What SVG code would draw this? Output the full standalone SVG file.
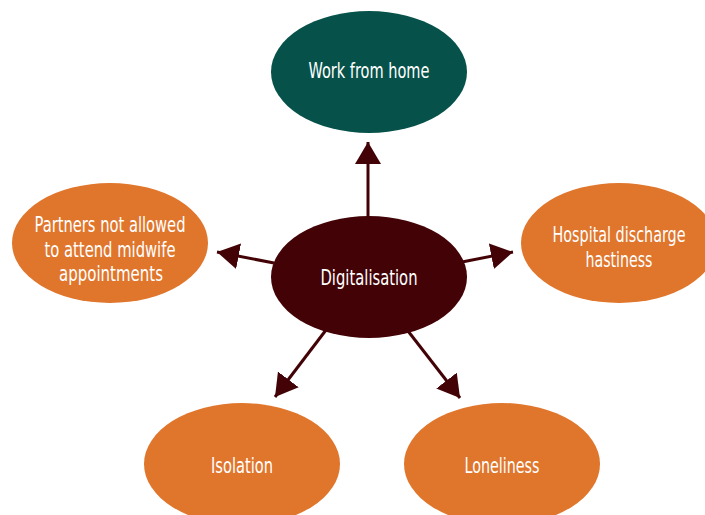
<svg xmlns="http://www.w3.org/2000/svg" width="705" height="515" viewBox="0 0 705 515">
<style>
.lbl{font-family:"DejaVu Sans Condensed","Liberation Sans",sans-serif;font-size:20.5px;fill:#ffffff;text-anchor:middle}
.orange{fill:#e0752c}
.conn{stroke:#430306;stroke-width:3;fill:none;marker-end:url(#ah)}
</style>
<defs>
<marker id="ah" markerUnits="userSpaceOnUse" markerWidth="24" markerHeight="28" refX="22" refY="13" orient="auto" viewBox="0 0 24 28">
<path d="M0,0 L22,13 L0,26 z" fill="#430306"/>
</marker>
</defs>
<rect width="705" height="515" fill="#ffffff"/>
<g id="connectors">
<line class="conn" x1="368" y1="218" x2="368" y2="142"/>
<line class="conn" x1="274" y1="263" x2="217" y2="252"/>
<line class="conn" x1="462" y1="262" x2="513" y2="252"/>
<line class="conn" x1="326" y1="330" x2="275" y2="397"/>
<line class="conn" x1="408" y1="331" x2="460" y2="398"/>
</g>
<g id="work-from-home">
<ellipse cx="369" cy="72" rx="98" ry="61" fill="#06524a"/>
<text class="lbl" x="369" y="78" textLength="121" lengthAdjust="spacingAndGlyphs">Work from home</text>
</g>
<g id="digitalisation">
<ellipse cx="369" cy="277" rx="98" ry="61" fill="#430306"/>
<text class="lbl" x="369" y="285" textLength="97" lengthAdjust="spacingAndGlyphs">Digitalisation</text>
</g>
<g id="partners">
<ellipse class="orange" cx="110" cy="243" rx="98" ry="60"/>
<text class="lbl" x="110" y="232" textLength="151" lengthAdjust="spacingAndGlyphs">Partners not allowed</text>
<text class="lbl" x="110" y="257" textLength="131" lengthAdjust="spacingAndGlyphs">to attend midwife</text>
<text class="lbl" x="111" y="281" textLength="104" lengthAdjust="spacingAndGlyphs">appointments</text>
</g>
<g id="hospital">
<ellipse class="orange" cx="619" cy="243" rx="98" ry="60"/>
<text class="lbl" x="619" y="242" textLength="133" lengthAdjust="spacingAndGlyphs">Hospital discharge</text>
<text class="lbl" x="619" y="267" textLength="67" lengthAdjust="spacingAndGlyphs">hastiness</text>
</g>
<g id="isolation">
<ellipse class="orange" cx="242" cy="464" rx="98" ry="61"/>
<text class="lbl" x="242" y="473" textLength="62" lengthAdjust="spacingAndGlyphs">Isolation</text>
</g>
<g id="loneliness">
<ellipse class="orange" cx="502" cy="464" rx="98" ry="61"/>
<text class="lbl" x="502" y="473" textLength="75" lengthAdjust="spacingAndGlyphs">Loneliness</text>
</g>
</svg>
